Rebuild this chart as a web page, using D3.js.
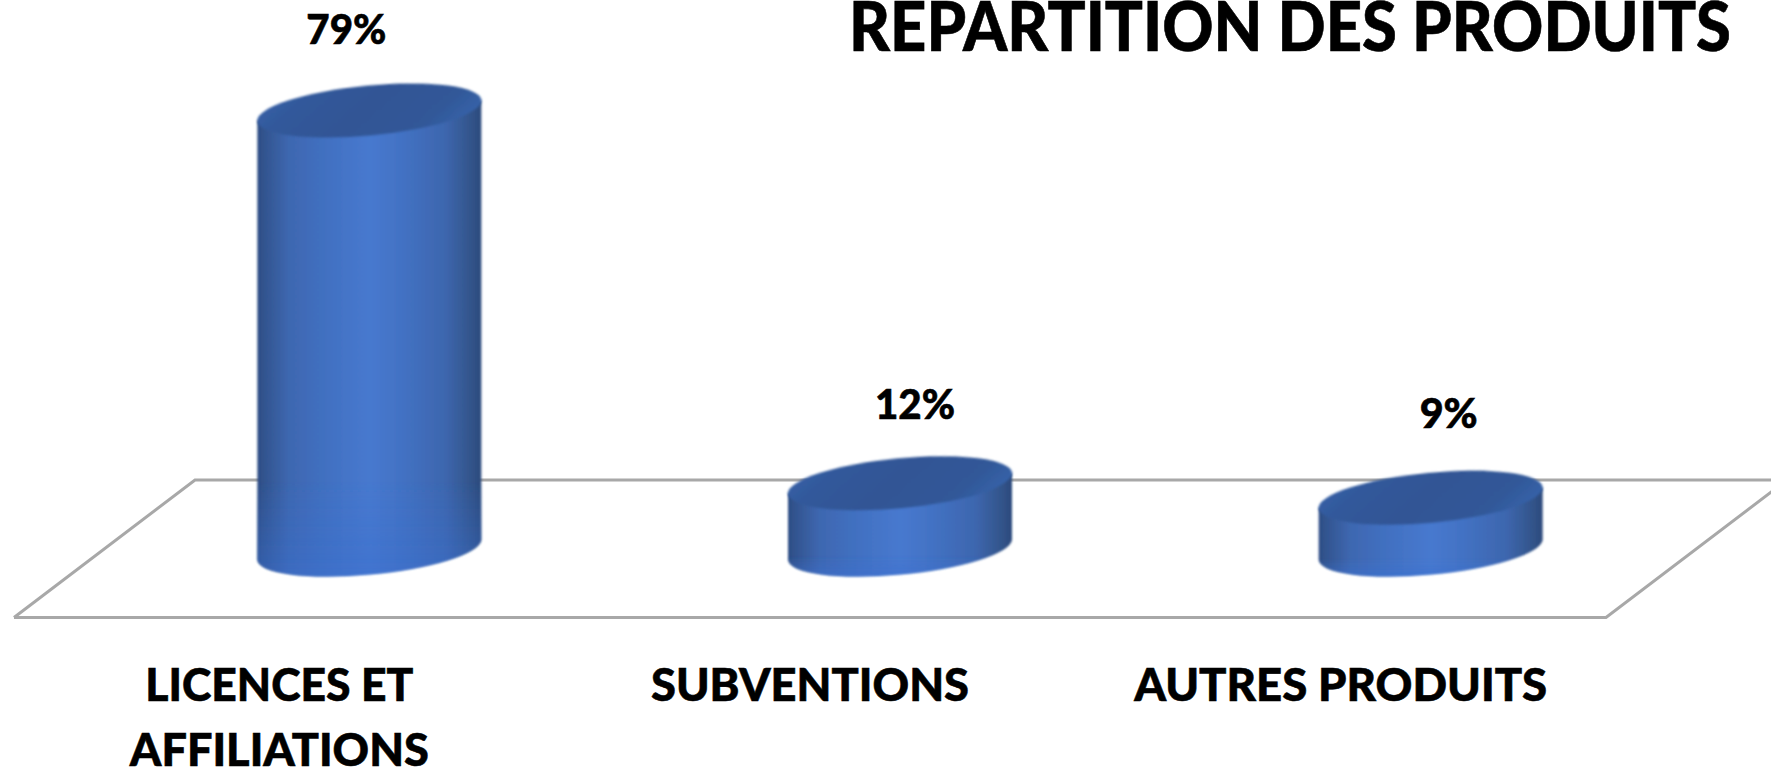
<!DOCTYPE html>
<html><head><meta charset="utf-8">
<script src="https://cdnjs.cloudflare.com/ajax/libs/d3/7.8.5/d3.min.js"></script>
<style>html,body{margin:0;padding:0;background:#fff;overflow:hidden}svg{display:block}text{font-family:Lato,"Open Sans",sans-serif;font-weight:900;fill:#000;stroke:#000;stroke-width:.6px}</style>
</head><body><svg id="c" width="1771" height="770"></svg>
<script>
const categories = [["LICENCES ET","AFFILIATIONS"],["SUBVENTIONS"],["AUTRES PRODUITS"]];
const values = [79, 12, 9.4];
const title = "REPARTITION DES PRODUITS";

// layout only
const categoryWidths = [[268,299],[318],[413]];
const labelOffsets = [[-23,-67],[15,-64],[18,-70]];
const labelWidths = [80,80,58];

const svg = d3.select("#c");
const defs = svg.append("defs");
const floorBackY = 480, floorFrontY = 617.5, floorDepth = 181;
const x = d3.scaleBand().domain(d3.range(categories.length)).range([14, 1606]);
const y = d3.scaleLinear().domain([0, 79]).range([550, 110.5]);
const depthShift = 90;
const barHalf = 112, rx = 112.5, ry = 25, tilt = -5.4, tangent = 10;

const side = defs.append("linearGradient").attr("id","side").attr("x1",0).attr("x2",1).attr("y1",0).attr("y2",0);
[[0,"#2d4d84"],[.04,"#335692"],[.14,"#3e67b0"],[.28,"#416fbf"],[.5,"#4779cf"],[.64,"#4372c4"],[.84,"#3d66ae"],[.94,"#34578f"],[1,"#2c4a7c"]]
  .forEach(([o,c])=>side.append("stop").attr("offset",o).attr("stop-color",c));
const topG = defs.append("linearGradient").attr("id","topG").attr("x1",0).attr("x2",1).attr("y1",.2).attr("y2",.5);
[[0,"#3560a8"],[.18,"#33599b"],[.5,"#305595"],[.85,"#325898"],[1,"#3560a6"]]
  .forEach(([o,c])=>topG.append("stop").attr("offset",o).attr("stop-color",c));
const bot = defs.append("linearGradient").attr("id","bot").attr("x1",0).attr("x2",0).attr("y1",0).attr("y2",1);
bot.append("stop").attr("offset",.8).attr("stop-color","#3a6fd0").attr("stop-opacity",0);
bot.append("stop").attr("offset",1).attr("stop-color","#3a6fd0").attr("stop-opacity",.5);
defs.append("filter").attr("id","soft").append("feGaussianBlur").attr("stdDeviation",.8);

// floor
const fl = x.range()[0], fr = x.range()[1];
svg.append("path")
  .attr("d", d3.line()([[fl,floorFrontY],[fr,floorFrontY],[fr+floorDepth,floorBackY],[fl+floorDepth,floorBackY],[fl,floorFrontY]]))
  .attr("fill","none").attr("stroke","#a8a8a8").attr("stroke-width",3);

// bars
const g = svg.append("g").selectAll("g").data(values).join("g");
g.each(function(v,i){
  const n = d3.select(this);
  const cx = x(i) + x.bandwidth()/2 + depthShift;
  const t = y(v), b = y(0);
  const body = `M${cx-barHalf},${t+tangent}L${cx-barHalf},${b+tangent}A${rx},${ry} ${tilt} 0 0 ${cx+barHalf},${b-tangent}L${cx+barHalf},${t-tangent}Z`;
  n.append("path").attr("d",body).attr("fill","url(#side)").attr("filter","url(#soft)");
  n.append("path").attr("d",body).attr("fill","url(#bot)").attr("filter","url(#soft)");
  n.append("ellipse").attr("cx",cx).attr("cy",t).attr("rx",rx).attr("ry",ry)
    .attr("transform",`rotate(${tilt} ${cx} ${t})`).attr("fill","url(#topG)").attr("filter","url(#soft)");
  n.append("text").attr("x",cx+labelOffsets[i][0]).attr("y",t+labelOffsets[i][1]).attr("text-anchor","middle").attr("font-size",41)
    .attr("textLength",labelWidths[i]).attr("lengthAdjust","spacingAndGlyphs")
    .text(d3.format(".0f")(v)+"%");
});

// category labels
categories.forEach((lines,i)=>lines.forEach((line,j)=>{
  svg.append("text").attr("x",x(i)+x.bandwidth()/2).attr("y",701+j*65)
    .attr("text-anchor","middle").attr("font-size",46)
    .attr("textLength",categoryWidths[i][j]).attr("lengthAdjust","spacingAndGlyphs").text(line);
}));

svg.append("text").attr("x",1290).attr("y",50.5).attr("text-anchor","middle").attr("font-size",68)
  .attr("textLength",882).attr("lengthAdjust","spacingAndGlyphs").text(title);
</script></body></html>
